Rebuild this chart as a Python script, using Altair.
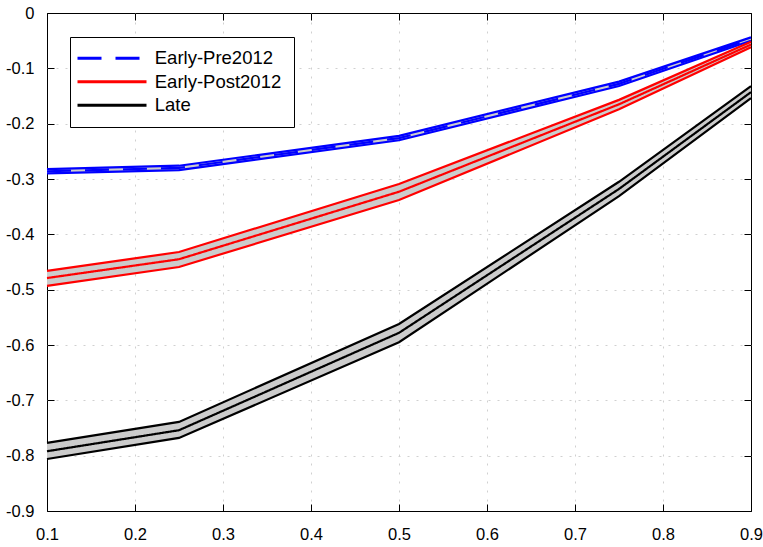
import altair as alt
import pandas as pd

x_vals = [0.1, 0.25, 0.5, 0.75, 0.9]
series_names = ["Early-Pre2012", "Early-Post2012", "Late"]

pre_hi = [-0.282, -0.276, -0.222, -0.124, -0.044]
pre_mid = [-0.286, -0.280, -0.226, -0.128, -0.047]
pre_lo = [-0.290, -0.284, -0.230, -0.132, -0.050]

post_hi = [-0.466, -0.432, -0.309, -0.157, -0.052]
post_mid = [-0.479, -0.445, -0.323, -0.165, -0.057]
post_lo = [-0.493, -0.459, -0.338, -0.174, -0.062]

late_hi = [-0.777, -0.739, -0.562, -0.305, -0.132]
late_mid = [-0.792, -0.754, -0.578, -0.318, -0.143]
late_lo = [-0.806, -0.768, -0.595, -0.331, -0.154]

x_ticks = [0.1, 0.2, 0.3, 0.4, 0.5, 0.6, 0.7, 0.8, 0.9]
y_ticks = [-0.9, -0.8, -0.7, -0.6, -0.5, -0.4, -0.3, -0.2, -0.1, 0.0]
x_grid = [0.2, 0.3, 0.4, 0.5, 0.6, 0.7, 0.8]
y_grid = [-0.8, -0.7, -0.6, -0.5, -0.4, -0.3, -0.2, -0.1]

rows = []
for name, lo, mid, hi in [
    (series_names[0], pre_lo, pre_mid, pre_hi),
    (series_names[1], post_lo, post_mid, post_hi),
    (series_names[2], late_lo, late_mid, late_hi),
]:
    for i, xv in enumerate(x_vals):
        rows.append({"series": name, "x": xv, "lo": lo[i], "mid": mid[i], "hi": hi[i]})
df = pd.DataFrame(rows)

W, H = 704, 498
TICK = 7
FONT = "Liberation Sans"
xs = alt.Scale(domain=[0.1, 0.9], nice=False, zero=False)
ys = alt.Scale(domain=[-0.9, 0], nice=False, zero=False)
color_range = ["#0000ff", "#ff0000", "#000000"]
color_scale = alt.Scale(domain=series_names, range=color_range)
dash_scale = alt.Scale(domain=series_names, range=[[24, 14], [1, 0], [1, 0]])

# dotted interior grid
axis_x_grid = alt.Axis(
    values=x_grid, orient="bottom", ticks=False, labels=False, domain=False,
    grid=True, gridColor="#d0d0d0", gridDash=[2, 7], gridWidth=1, title=None)
axis_y_grid = alt.Axis(
    values=y_grid, orient="left", ticks=False, labels=False, domain=False,
    grid=True, gridColor="#d0d0d0", gridDash=[2, 7], gridWidth=1, title=None)

# inward tick marks on all four sides (grid lines visible only near both edges)
axis_x_ticks = alt.Axis(
    values=x_ticks, orient="bottom", ticks=False, labels=False, domain=False,
    grid=True, gridColor="#000000", gridDash=[TICK, H - 2 * TICK], gridWidth=1,
    title=None)
axis_y_ticks = alt.Axis(
    values=y_ticks, orient="left", ticks=False, labels=False, domain=False,
    grid=True, gridColor="#000000", gridDash=[TICK, W - 2 * TICK], gridWidth=1,
    title=None)

# tick labels
axis_x_labels = alt.Axis(
    values=x_ticks, orient="bottom", ticks=False, tickSize=0, domain=False,
    grid=False, labelFontSize=16.5, labelFont=FONT, labelColor="black",
    labelPadding=15, labelFlush=False, labelOverlap=False, labelBound=False,
    labelExpr="format(datum.value, '.1f')", title=None)
axis_y_labels = alt.Axis(
    values=y_ticks, orient="left", ticks=False, tickSize=0, domain=False,
    grid=False, labelFontSize=16.5, labelFont=FONT, labelColor="black",
    labelPadding=13, labelFlush=False, labelOverlap=False, labelBound=False,
    labelExpr="abs(datum.value) < 1e-9 ? '0' : '-' + format(abs(datum.value), '.1f')",
    title=None)

legend = alt.Legend(
    orient="none", legendX=23, legendY=24, title=None,
    symbolType="M-5.75,0H5.75", symbolSize=144, symbolStrokeWidth=3,
    symbolOffset=20.75, labelOffset=33.5, labelFontSize=18.5, labelFont=FONT,
    labelColor="black", padding=12, rowPadding=4.5, strokeColor="black",
    fillColor="white", labelLimit=300)

base = alt.Chart(df)

band = base.mark_area(color="#cccccc", opacity=1).encode(
    x=alt.X("x:Q", scale=xs, axis=axis_x_grid),
    y=alt.Y("lo:Q", scale=ys, axis=axis_y_grid),
    y2="hi:Q",
    detail="series:N",
)

lo_line = base.mark_line(strokeWidth=2.2).encode(
    x=alt.X("x:Q", scale=xs, axis=axis_x_ticks),
    y=alt.Y("lo:Q", scale=ys, axis=axis_y_ticks),
    color=alt.Color("series:N", scale=color_scale, legend=legend),
)

hi_line = base.mark_line(strokeWidth=2.2).encode(
    x=alt.X("x:Q", scale=xs, axis=axis_x_labels),
    y=alt.Y("hi:Q", scale=ys, axis=axis_y_labels),
    color=alt.Color("series:N", scale=color_scale, legend=legend),
)

mid_line = base.mark_line(strokeWidth=2.2).encode(
    x=alt.X("x:Q", scale=xs, axis=None),
    y=alt.Y("mid:Q", scale=ys, axis=None),
    color=alt.Color("series:N", scale=color_scale, legend=legend),
    strokeDash=alt.StrokeDash("series:N", scale=dash_scale, legend=legend),
)

chart = (
    alt.layer(band, lo_line, hi_line, mid_line)
    .resolve_axis(x="independent", y="independent")
    .properties(
        width=W, height=H,
        padding={"left": 47, "top": 13, "right": 12, "bottom": 36},
        autosize=alt.AutoSizeParams(type="none"),
        background="white",
    )
    .configure_view(stroke="black", strokeWidth=1)
)

chart.save("out.html", embed_options={"renderer": "svg", "actions": False})
